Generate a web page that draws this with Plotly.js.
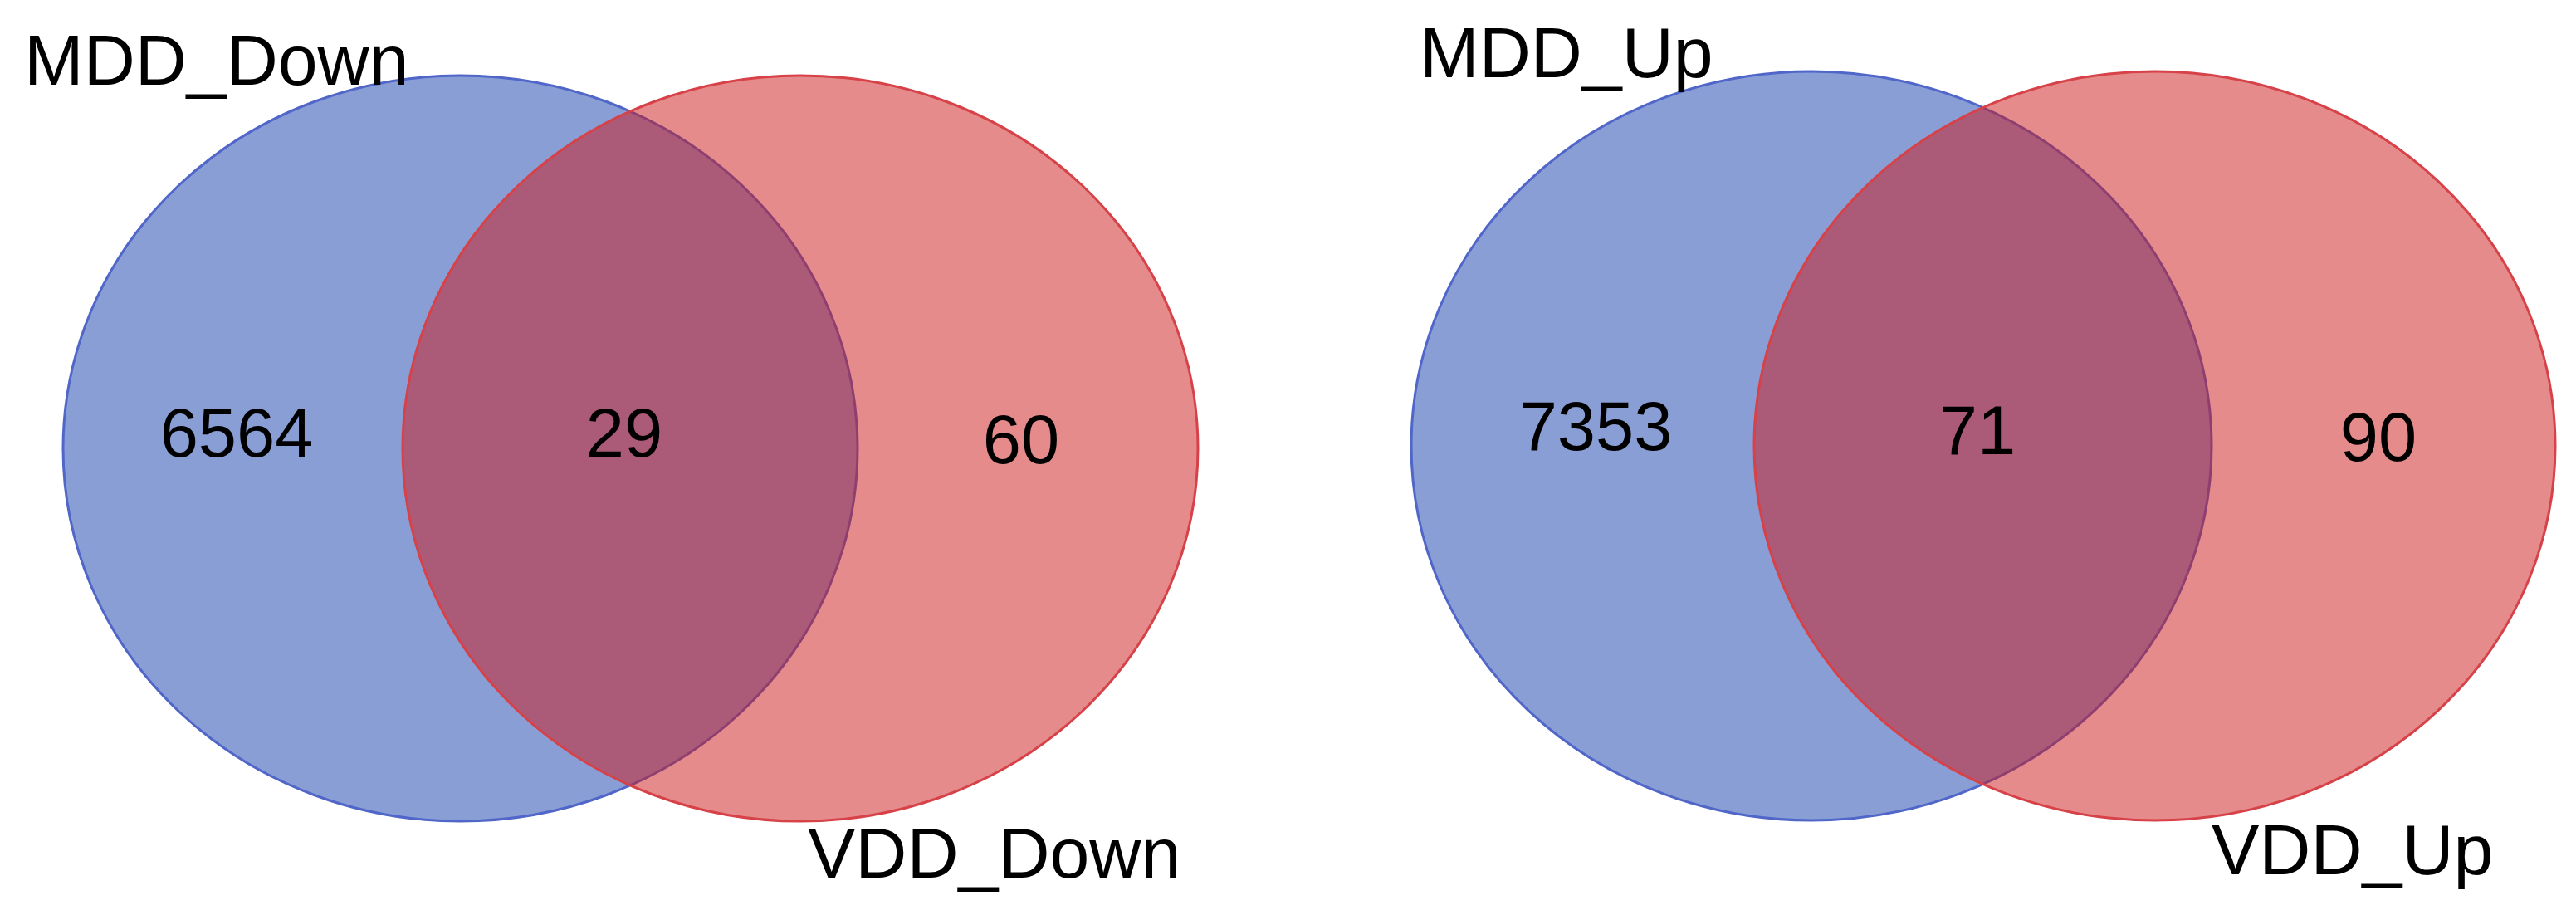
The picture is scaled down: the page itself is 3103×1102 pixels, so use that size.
<!DOCTYPE html>
<html>
<head>
<meta charset="utf-8">
<script src="https://cdn.plot.ly/plotly-3.0.1.min.js"></script>
<style>html,body{margin:0;padding:0;background:#fff;}#chart{width:3103px;height:1102px;}</style>
</head>
<body>
<div id="chart"></div>
<script>
// ---- data ----
const setA = ["MDD_Down", "MDD_Up"];
const setB = ["VDD_Down", "VDD_Up"];
const onlyA = [6564, 7353];
const both = [29, 71];
const onlyB = [60, 90];

// ---- geometry (pixels, layout only) ----
const panels = [
  {blue:[76,91,1033,989], red:[485,91,1443,989],
   txt:[[285,529],[752,529],[1230,537]],
   labA:[27,72], labB:[971,1027]},
  {blue:[1700,86,2664,988], red:[2113,86,3078,988],
   txt:[[1922,521],[2382,526],[2865,534]],
   labA:[1708,63], labB:[2662,1023]}
];

const FONT = "Liberation Sans, Arial, Helvetica, sans-serif";
const shapes = [];
const annotations = [];
const tx = [], ty = [], tt = [];

panels.forEach((p, i) => {
  shapes.push({type:"circle", xref:"x", yref:"y",
    x0:p.blue[0], y0:p.blue[1], x1:p.blue[2], y1:p.blue[3],
    fillcolor:"rgba(21,61,173,0.5)", line:{color:"rgb(80,102,200)", width:3}, layer:"below"});
  shapes.push({type:"circle", xref:"x", yref:"y",
    x0:p.red[0], y0:p.red[1], x1:p.red[2], y1:p.red[3],
    fillcolor:"rgba(203,23,23,0.5)", line:{color:"rgb(215,65,72)", width:3}, layer:"below"});
  const vals = [onlyA[i], both[i], onlyB[i]];
  vals.forEach((v, k) => { tx.push(p.txt[k][0]); ty.push(p.txt[k][1]); tt.push(String(v)); });
  annotations.push({x:p.labA[0], y:p.labA[1], xref:"x", yref:"y", text:setA[i], showarrow:false,
    xanchor:"left", yanchor:"middle", font:{family:FONT, size:86, color:"#000"}});
  annotations.push({x:p.labB[0], y:p.labB[1], xref:"x", yref:"y", text:setB[i], showarrow:false,
    xanchor:"left", yanchor:"middle", font:{family:FONT, size:86, color:"#000"}});
});

const trace = {x:tx, y:ty, text:tt, mode:"text", type:"scatter",
  textfont:{family:FONT, size:83, color:"#000"}, textposition:"middle center",
  hoverinfo:"none", showlegend:false};

const layout = {
  width:3103, height:1102, margin:{l:0,r:0,t:0,b:0},
  paper_bgcolor:"#fff", plot_bgcolor:"#fff",
  xaxis:{range:[0,3103], visible:false, fixedrange:true},
  yaxis:{range:[1102,0], visible:false, fixedrange:true},
  shapes:shapes, annotations:annotations, showlegend:false
};
Plotly.newPlot("chart", [trace], layout, {staticPlot:true, displayModeBar:false});
</script>
</body>
</html>
